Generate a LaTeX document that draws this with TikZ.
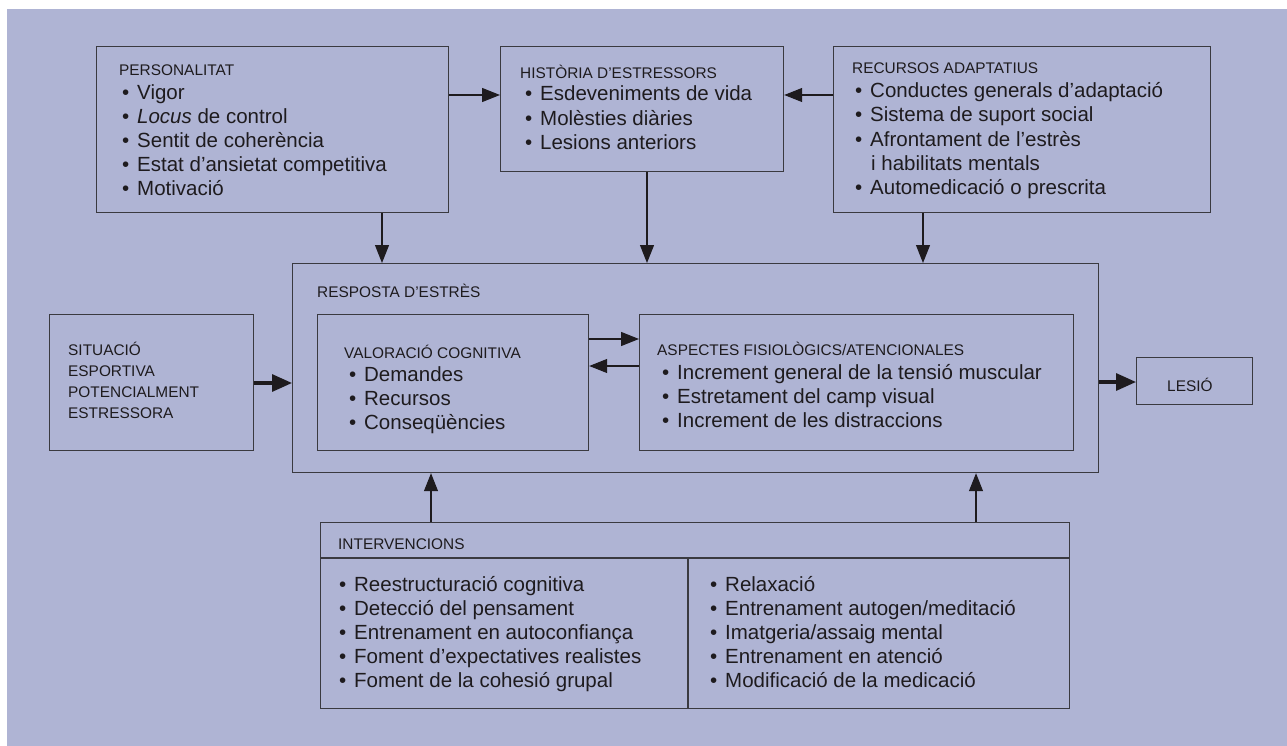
\documentclass[tikz,border=0pt]{standalone}
\usepackage{fontspec}
\setmainfont{Liberation Sans}
\usetikzlibrary{arrows.meta,calc}
\definecolor{bg}{RGB}{175,180,212}
\definecolor{ink}{RGB}{30,27,30}
\definecolor{edge}{RGB}{58,58,64}
\newcommand{\bulitem}{\llap{\textbullet\hspace{8pt}}}
\begin{document}
\begin{tikzpicture}[x=1pt,y=-1pt,
  box/.style={draw=edge,line width=1.2pt,inner sep=0pt,anchor=north west},
  sepline/.style={draw=edge,line width=1.2pt},
  hd/.style={font=\fontsize{15.4}{18}\selectfont,text=ink,inner sep=0pt,anchor=base west},
  itm/.style={font=\fontsize{20.5}{24}\selectfont,text=ink,inner sep=0pt,anchor=base west},
  arr/.style={draw=ink,line width=1.1pt,-{Triangle[length=18pt,width=14pt]}},
  tarr/.style={draw=ink,line width=3.2pt,-{Triangle[length=20pt,width=17pt]}}]
\fill[white] (0,0) rectangle (1287,746);
\fill[bg] (7,9) rectangle (1287,746);
\useasboundingbox (0,0) rectangle (1287,746);

% boxes
\node[box,minimum width=352pt,minimum height=166pt] (pers) at (96,46) {};
\node[box,minimum width=283pt,minimum height=125pt] (hist) at (500,46) {};
\node[box,minimum width=377pt,minimum height=166pt] (rec) at (833,46) {};
\node[box,minimum width=204pt,minimum height=136pt] (sit) at (49,314) {};
\node[box,minimum width=806pt,minimum height=209pt] (resp) at (292,263) {};
\node[box,minimum width=271pt,minimum height=136pt] (val) at (317,314) {};
\node[box,minimum width=434pt,minimum height=136pt] (asp) at (639,314) {};
\node[box,minimum width=116pt,minimum height=47pt] (les) at (1136,357) {};
\node[box,minimum width=749pt,minimum height=186pt] (int) at (320,522) {};
\draw[sepline] ($(int.north west)+(0,36)$) -- ($(int.north east)+(0,36)$);
\draw[sepline] ($(int.north west)+(368,36)$) -- ($(int.south west)+(368,0)$);

% PERSONALITAT
\node[hd] (persH) at (119,75.5) {PERSONALITAT};
\node[itm] (pers1) at (137,100) {\bulitem Vigor};
\node[itm] (pers2) at (137,124) {\bulitem\textit{Locus} de control};
\node[itm] (pers3) at (137,148) {\bulitem Sentit de coherència};
\node[itm] (pers4) at (137,172) {\bulitem Estat d’ansietat competitiva};
\node[itm] (pers5) at (137,196) {\bulitem Motivació};

% HISTORIA
\node[hd] (histH) at (520,79) {HISTÒRIA D’ESTRESSORS};
\node[itm] (hist1) at (540,101) {\bulitem Esdeveniments de vida};
\node[itm] (hist2) at (540,126) {\bulitem Molèsties diàries};
\node[itm] (hist3) at (540,150) {\bulitem Lesions anteriors};

% RECURSOS
\node[hd] (recH) at (852,74) {RECURSOS ADAPTATIUS};
\node[itm] (rec1) at (870,98) {\bulitem Conductes generals d’adaptació};
\node[itm] (rec2) at (870,122) {\bulitem Sistema de suport social};
\node[itm] (rec3) at (870,147) {\bulitem Afrontament de l’estrès};
\node[itm] (rec4) at (871,171) {i habilitats mentals};
\node[itm] (rec5) at (870,195) {\bulitem Automedicació o prescrita};

% SITUACIO
\node[hd] (sit1) at (68,355) {SITUACIÓ};
\node[hd] (sit2) at (68,376) {ESPORTIVA};
\node[hd] (sit3) at (68,397) {POTENCIALMENT};
\node[hd] (sit4) at (68,418) {ESTRESSORA};

% RESPOSTA
\node[hd] (respH) at (317,297) {RESPOSTA D’ESTRÈS};

% VALORACIO
\node[hd] (valH) at (344,358) {VALORACIÓ COGNITIVA};
\node[itm] (val1) at (364,381) {\bulitem Demandes};
\node[itm] (val2) at (364,405) {\bulitem Recursos};
\node[itm] (val3) at (364,429) {\bulitem Conseqüències};

% ASPECTES
\node[hd] (aspH) at (657,355) {ASPECTES FISIOLÒGICS/ATENCIONALES};
\node[itm] (asp1) at (677,379) {\bulitem Increment general de la tensió muscular};
\node[itm] (asp2) at (677,403) {\bulitem Estretament del camp visual};
\node[itm] (asp3) at (677,427) {\bulitem Increment de les distraccions};

% LESIO
\node[hd] (lesT) at (1167,391) {LESIÓ};

% INTERVENCIONS
\node[hd] (intH) at (338,549) {INTERVENCIONS};
\node[itm] (intL1) at (354,591) {\bulitem Reestructuració cognitiva};
\node[itm] (intL2) at (354,615) {\bulitem Detecció del pensament};
\node[itm] (intL3) at (354,639) {\bulitem Entrenament en autoconfiança};
\node[itm] (intL4) at (354,663) {\bulitem Foment d’expectatives realistes};
\node[itm] (intL5) at (354,687) {\bulitem Foment de la cohesió grupal};
\node[itm] (intR1) at (725,591) {\bulitem Relaxació};
\node[itm] (intR2) at (725,615) {\bulitem Entrenament autogen/meditació};
\node[itm] (intR3) at (725,639) {\bulitem Imatgeria/assaig mental};
\node[itm] (intR4) at (725,663) {\bulitem Entrenament en atenció};
\node[itm] (intR5) at (725,687) {\bulitem Modificació de la medicació};

% connectors
\coordinate (ph) at ($(pers.north east)+(0,49)$);
\draw[arr] (ph) -- (ph -| hist.west);
\coordinate (rh) at ($(rec.north west)+(0,49)$);
\draw[arr] (rh) -- (rh -| hist.east);
\coordinate (pd) at ($(pers.south west)+(286,0)$);
\draw[arr] (pd) -- (pd |- resp.north);
\coordinate (hd) at ($(hist.south west)+(147,0)$);
\draw[arr] (hd) -- (hd |- resp.north);
\coordinate (rd) at ($(rec.south west)+(90,0)$);
\draw[arr] (rd) -- (rd |- resp.north);
\coordinate (va) at ($(val.north east)+(0,25)$);
\draw[arr] (va) -- (va -| asp.west);
\coordinate (av) at ($(asp.north west)+(0,52)$);
\draw[arr] (av) -- (av -| val.east);
\coordinate (iu1) at ($(int.north west)+(111,0)$);
\draw[arr] (iu1) -- (iu1 |- resp.south);
\coordinate (iu2) at ($(int.north west)+(656,0)$);
\draw[arr] (iu2) -- (iu2 |- resp.south);
\coordinate (sr) at ($(sit.north east)+(0,69)$);
\draw[tarr] (sr) -- (sr -| resp.west);
\coordinate (rl) at ($(les.north west)+(0,25)$);
\draw[tarr] (rl -| resp.east) -- (rl);
\end{tikzpicture}
\end{document}
